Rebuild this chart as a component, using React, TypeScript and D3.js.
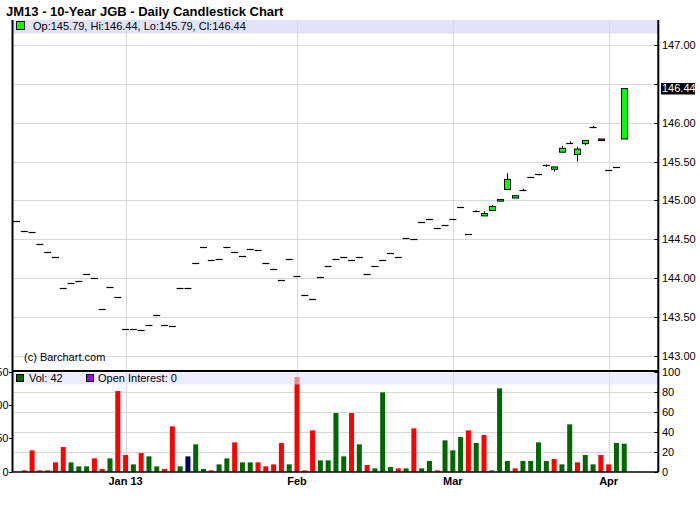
import * as d3 from 'd3';

// daily settlement data, one entry per trading day (index 0 = first bar)
const opens = [
  144.73, 144.60, 144.59, 144.44, 144.34, 144.27, 143.87, 143.93, 143.96, 144.05,
  144.00, 143.60, 143.88, 143.76, 143.34, 143.34, 143.33, 143.39, 143.53, 143.40,
  143.38, 143.87, 143.87, 144.19, 144.40, 144.23, 144.25, 144.40, 144.33, 144.28,
  144.37, 144.36, 144.19, 144.12, 143.97, 144.24, 144.02, 143.78, 143.73, 144.01,
  144.15, 144.25, 144.27, 144.23, 144.27, 144.05, 144.15, 144.23, 144.32, 144.27,
  144.51, 144.50, 144.72, 144.76, 144.65, 144.68, 144.76, 144.91, 144.57, 144.86,
  144.80, 144.87, 144.99, 145.14, 145.03, 145.13, 145.30, 145.34, 145.46, 145.40,
  145.62, 145.74, 145.59, 145.73, 145.94, 145.79, 145.39, 145.43, 145.79,
];
const highs = [
  144.73, 144.60, 144.59, 144.44, 144.34, 144.27, 143.87, 143.93, 143.96, 144.05,
  144.00, 143.60, 143.88, 143.76, 143.34, 143.34, 143.33, 143.39, 143.53, 143.40,
  143.38, 143.87, 143.87, 144.19, 144.40, 144.23, 144.25, 144.40, 144.33, 144.28,
  144.37, 144.36, 144.19, 144.12, 143.97, 144.24, 144.02, 143.78, 143.73, 144.01,
  144.15, 144.25, 144.27, 144.23, 144.27, 144.05, 144.15, 144.23, 144.32, 144.27,
  144.51, 144.50, 144.72, 144.76, 144.65, 144.68, 144.76, 144.91, 144.57, 144.87,
  144.86, 144.94, 145.01, 145.35, 145.06, 145.15, 145.30, 145.34, 145.46, 145.43,
  145.70, 145.76, 145.69, 145.77, 145.96, 145.79, 145.39, 145.43, 146.44,
];
const lows = [
  144.73, 144.60, 144.59, 144.44, 144.34, 144.27, 143.87, 143.93, 143.96, 144.05,
  144.00, 143.60, 143.88, 143.76, 143.34, 143.34, 143.33, 143.39, 143.53, 143.40,
  143.38, 143.87, 143.87, 144.19, 144.40, 144.23, 144.25, 144.40, 144.33, 144.28,
  144.37, 144.36, 144.19, 144.12, 143.97, 144.24, 144.02, 143.78, 143.73, 144.01,
  144.15, 144.25, 144.27, 144.23, 144.27, 144.05, 144.15, 144.23, 144.32, 144.27,
  144.51, 144.50, 144.72, 144.76, 144.65, 144.68, 144.76, 144.91, 144.57, 144.86,
  144.80, 144.87, 144.99, 145.14, 145.03, 145.12, 145.30, 145.32, 145.43, 145.37,
  145.62, 145.74, 145.50, 145.71, 145.93, 145.77, 145.39, 145.43, 145.79,
];
const closes = [
  144.73, 144.60, 144.59, 144.44, 144.34, 144.27, 143.87, 143.93, 143.96, 144.05,
  144.00, 143.60, 143.88, 143.76, 143.34, 143.34, 143.33, 143.39, 143.53, 143.40,
  143.38, 143.87, 143.87, 144.19, 144.40, 144.23, 144.25, 144.40, 144.33, 144.28,
  144.37, 144.36, 144.19, 144.12, 143.97, 144.24, 144.02, 143.78, 143.73, 144.01,
  144.15, 144.25, 144.27, 144.23, 144.27, 144.05, 144.15, 144.23, 144.32, 144.27,
  144.51, 144.50, 144.72, 144.76, 144.65, 144.68, 144.76, 144.91, 144.57, 144.86,
  144.83, 144.92, 145.01, 145.27, 145.06, 145.13, 145.30, 145.34, 145.46, 145.43,
  145.67, 145.74, 145.66, 145.77, 145.94, 145.77, 145.39, 145.43, 146.44,
];
const volumes = [
  0, 2, 32, 2, 2, 14, 37, 14, 8, 8,
  20, 4, 20, 121, 25, 11, 28, 23, 8, 4,
  68, 8, 23, 41, 4, 2, 11, 20, 44, 14,
  14, 14, 8, 11, 43, 11, 142, 2, 62, 17,
  17, 88, 23, 88, 41, 10, 5, 119, 7, 5,
  5, 65, 5, 16, 2, 47, 32, 52, 62, 43,
  55, 2, 125, 16, 5, 16, 16, 44, 16, 19,
  11, 71, 14, 25, 11, 25, 11, 43, 42,
];
// u = up day, d = down day, n = unchanged
const volumeDirs = [
  'd', 'd', 'd', 'd', 'd', 'd', 'd', 'u', 'u', 'u',
  'd', 'd', 'u', 'd', 'd', 'u', 'd', 'u', 'u', 'd',
  'd', 'u', 'n', 'u', 'u', 'd', 'u', 'u', 'd', 'u',
  'u', 'd', 'd', 'd', 'd', 'u', 'd', 'd', 'd', 'u',
  'u', 'u', 'u', 'd', 'u', 'd', 'u', 'u', 'u', 'd',
  'u', 'd', 'u', 'u', 'd', 'u', 'u', 'u', 'd', 'u',
  'd', 'u', 'u', 'u', 'd', 'u', 'u', 'u', 'u', 'd',
  'u', 'u', 'd', 'u', 'u', 'd', 'd', 'u', 'u',
];
const monthTicks = [
  { label: 'Jan 13', index: 14 },
  { label: 'Feb', index: 36 },
  { label: 'Mar', index: 56 },
  { label: 'Apr', index: 76 },
];
const priceTicks = [143, 143.5, 144, 144.5, 145, 145.5, 146, 146.5, 147];
const volTicksLeft = [0, 50, 100, 150];
const volTicksRight = [0, 20, 40, 60, 80, 100];
const openInterest = 0;

const SLOTS = 83;
const FONT = '"Liberation Sans", Arial, sans-serif';
const volColor: Record<string, string> = { u: '#006600', d: '#ff0000', n: '#000066' };

export default function App() {
  const left = 12.6, right = 659.3;
  const x = d3.scaleBand<number>().domain(d3.range(SLOTS)).range([left, right]);
  const cx = (i: number) => (x(i) ?? 0) + x.bandwidth() / 2;
  const y = d3.scaleLinear().domain([143, 147]).range([355.7, 45]);
  const yv = d3.scaleLinear().domain([0, 150]).range([471.7, 371.7]);
  const yvr = d3.scaleLinear().domain([0, 100]).range([471.7, 371.7]);
  const axisX = 658.3;
  const last = closes.length - 1;
  const f = d3.format('.2f');
  const lastY = y(closes[last]);

  return (
    <svg width={700} height={512} style={{ position: 'absolute', left: 0, top: 0, background: '#fff' }}
      fontFamily={FONT}>
      <text x={6} y={15.5} fontSize={13} fontWeight="bold">JM13 - 10-Year JGB - Daily Candlestick Chart</text>

      {/* price legend band */}
      <rect x={13} y={20} width={axisX - 13} height={13.5} fill="#e2e2fa" />

      {/* price gridlines */}
      {priceTicks.map(t => (
        <line key={'pg' + t} x1={13} x2={axisX} y1={Math.round(y(t)) + 0.5} y2={Math.round(y(t)) + 0.5}
          stroke="#d9d9d9" />
      ))}
      {/* volume gridlines */}
      {volTicksRight.slice(1, -1).map(t => (
        <line key={'vg' + t} x1={13} x2={axisX} y1={Math.round(yvr(t)) + 0.5} y2={Math.round(yvr(t)) + 0.5}
          stroke="#d9d9d9" />
      ))}
      {/* month gridlines */}
      {monthTicks.map(m => (
        <line key={'mg' + m.label} x1={Math.round(cx(m.index)) + 0.5} x2={Math.round(cx(m.index)) + 0.5}
          y1={20} y2={471} stroke="#d9d9d9" />
      ))}

      <rect x={16.5} y={21.5} width={8} height={8} fill="#00ff00" stroke="#000" />
      <text x={33} y={30} fontSize={11}>
        {`Op:${f(opens[last])}, Hi:${f(highs[last])}, Lo:${f(lows[last])}, Cl:${f(closes[last])}`}
      </text>

      {/* candles */}
      {closes.map((c, i) => {
        const xc = cx(i);
        const o = opens[i];
        const hy = y(highs[i]), ly = y(lows[i]);
        const wick = highs[i] !== lows[i]
          ? <line x1={Math.round(xc) + 0.5} x2={Math.round(xc) + 0.5} y1={hy} y2={ly} stroke="#000" />
          : null;
        if (Math.abs(o - c) < 0.005) {
          const yy = Math.round(y(c)) + 0.5;
          return (
            <g key={'c' + i}>
              {wick}
              <line x1={xc - 3.5} x2={xc + 3.5} y1={yy} y2={yy} stroke="#000" strokeWidth={1.2} />
            </g>
          );
        }
        const top = y(Math.max(o, c)), bot = y(Math.min(o, c));
        return (
          <g key={'c' + i}>
            {wick}
            <rect x={Math.round(xc) - 3 + 0.5} y={top} width={6} height={Math.max(bot - top, 1)}
              fill={c > o ? '#00ff00' : '#ff0000'} stroke="#000" />
          </g>
        );
      })}

      {/* volume bars */}
      {volumes.map((v, i) => (
        <rect key={'v' + i} x={cx(i) - 2.5} y={yv(v)} width={5} height={yv(0) - yv(v)}
          fill={volColor[volumeDirs[i]]} />
      ))}

      <rect x={13} y={372.5} width={axisX - 13} height={12} fill="#e0e0fa" opacity={0.6} />
      <rect x={16.5} y={374.5} width={7} height={7} fill="#006600" stroke="#000" />
      <text x={29} y={382} fontSize={11}>{`Vol: ${volumes[last]}`}</text>
      <rect x={86.5} y={374.5} width={7} height={7} fill="#9900ff" stroke="#000" />
      <text x={98} y={382} fontSize={11}>{`Open Interest: ${openInterest}`}</text>

      <text x={24} y={361} fontSize={11}>(c) Barchart.com</text>

      {/* frame */}
      <line x1={12.5} x2={12.5} y1={20} y2={472} stroke="#000" strokeWidth={2} />
      <line x1={axisX} x2={axisX} y1={20} y2={472} stroke="#000" strokeWidth={2} />
      <line x1={12} x2={axisX} y1={371} y2={371} stroke="#000" strokeWidth={2} />
      <line x1={12} x2={axisX} y1={472} y2={472} stroke="#000" strokeWidth={1.5} />

      {/* right price axis; the last-price box replaces the label next to it */}
      {priceTicks.map(t => (
        <g key={'pt' + t}>
          <line x1={axisX - 4} x2={axisX} y1={Math.round(y(t)) + 0.5} y2={Math.round(y(t)) + 0.5} stroke="#000" />
          {Math.abs(y(t) - lastY) > 12 && <text x={662} y={y(t) + 4} fontSize={11}>{f(t)}</text>}
        </g>
      ))}
      <rect x={661} y={lastY - 5.5} width={34} height={11.5} fill="#000" />
      <text x={662} y={lastY + 4} fontSize={11} fill="#fff">{f(closes[last])}</text>

      {/* volume axes */}
      {volTicksRight.map(t => (
        <g key={'vr' + t}>
          <line x1={axisX - 4} x2={axisX} y1={Math.round(yvr(t)) + 0.5} y2={Math.round(yvr(t)) + 0.5} stroke="#000" />
          <text x={662} y={yvr(t) + 4} fontSize={11}>{t}</text>
        </g>
      ))}
      {volTicksLeft.map(t => (
        <g key={'vl' + t}>
          <line x1={9} x2={12} y1={Math.round(yv(t)) + 0.5} y2={Math.round(yv(t)) + 0.5} stroke="#000" />
          <text x={8.5} y={yv(t) + 4} fontSize={11} textAnchor="end">{t}</text>
        </g>
      ))}

      {/* month labels */}
      {monthTicks.map(m => (
        <text key={'ml' + m.label} x={cx(m.index)} y={485} fontSize={11} fontWeight="bold" textAnchor="middle">
          {m.label}
        </text>
      ))}
    </svg>
  );
}
